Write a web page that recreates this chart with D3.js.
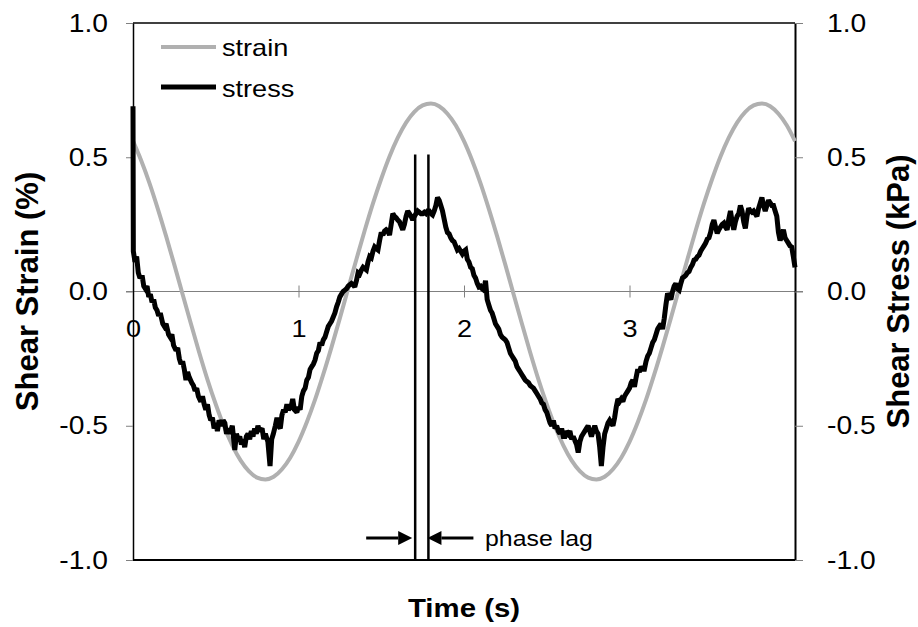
<!DOCTYPE html>
<html><head><meta charset="utf-8">
<script src="https://cdn.jsdelivr.net/npm/d3@7"></script>
<style>body{margin:0;background:#fff}svg{display:block}text{font-family:"Liberation Sans",Arial,sans-serif;fill:#000}</style>
</head><body><svg id="c" width="918" height="627"></svg>
<script>
// ---------- DATA ----------
const seriesNames = ["strain", "stress"];
const timeTicks = [0, 1, 2, 3];
const yTicks = [-1.0, -0.5, 0.0, 0.5, 1.0];
const xTitle = "Time (s)";
const yLeftTitle = "Shear Strain (%)";
const yRightTitle = "Shear Stress (kPa)";
const phaseLagLabel = "phase lag";
const phaseLagTimes = [1.705, 1.785];
const phaseLagTop = 0.51;

const strainPoints = [
[0.00,0.560],[0.05,0.487],[0.10,0.403],[0.15,0.308],[0.20,0.206],[0.25,0.099],[0.30,-0.011],[0.35,-0.120],[0.40,-0.227],[0.45,-0.328],
[0.50,-0.420],[0.55,-0.503],[0.60,-0.573],[0.65,-0.629],[0.70,-0.669],[0.75,-0.693],[0.80,-0.700],[0.85,-0.690],[0.90,-0.662],[0.95,-0.619],
[1.00,-0.560],[1.05,-0.487],[1.10,-0.403],[1.15,-0.308],[1.20,-0.206],[1.25,-0.099],[1.30,0.011],[1.35,0.120],[1.40,0.227],[1.45,0.328],
[1.50,0.420],[1.55,0.503],[1.60,0.573],[1.65,0.629],[1.70,0.669],[1.75,0.693],[1.80,0.700],[1.85,0.690],[1.90,0.662],[1.95,0.619],
[2.00,0.560],[2.05,0.487],[2.10,0.403],[2.15,0.308],[2.20,0.206],[2.25,0.099],[2.30,-0.011],[2.35,-0.120],[2.40,-0.227],[2.45,-0.328],
[2.50,-0.420],[2.55,-0.503],[2.60,-0.573],[2.65,-0.629],[2.70,-0.669],[2.75,-0.693],[2.80,-0.700],[2.85,-0.690],[2.90,-0.662],[2.95,-0.619],
[3.00,-0.560],[3.05,-0.487],[3.10,-0.403],[3.15,-0.308],[3.20,-0.206],[3.25,-0.099],[3.30,0.011],[3.35,0.120],[3.40,0.227],[3.45,0.328],
[3.50,0.420],[3.55,0.503],[3.60,0.573],[3.65,0.629],[3.70,0.669],[3.75,0.693],[3.80,0.700],[3.85,0.690],[3.90,0.662],[3.95,0.619],
[4.00,0.560]
];

const stressPoints = [
[0.000,0.69],[0.002,0.15],[0.012,0.11],[0.022,0.13],[0.032,0.07],[0.042,0.05],[0.055,0.06],[0.065,0.02],[0.075,0.01],[0.085,0.02],
[0.095,-0.02],[0.105,-0.01],[0.115,-0.04],[0.125,-0.03],[0.135,-0.06],[0.145,-0.07],[0.155,-0.09],[0.165,-0.08],[0.18,-0.12],[0.19,-0.13],
[0.20,-0.12],[0.215,-0.16],[0.225,-0.17],[0.235,-0.16],[0.245,-0.20],[0.26,-0.22],[0.27,-0.21],[0.28,-0.25],[0.29,-0.27],[0.30,-0.26],
[0.31,-0.29],[0.32,-0.33],[0.33,-0.30],[0.34,-0.32],[0.355,-0.34],[0.365,-0.35],[0.375,-0.37],[0.385,-0.36],[0.395,-0.39],[0.41,-0.41],
[0.42,-0.39],[0.43,-0.42],[0.44,-0.44],[0.45,-0.42],[0.46,-0.46],[0.47,-0.48],[0.48,-0.47],[0.49,-0.51],[0.50,-0.49],[0.51,-0.52],
[0.52,-0.48],[0.535,-0.50],[0.545,-0.48],[0.555,-0.49],[0.565,-0.53],[0.575,-0.51],[0.585,-0.53],[0.60,-0.50],[0.615,-0.59],[0.625,-0.53],
[0.635,-0.55],[0.645,-0.54],[0.655,-0.57],[0.665,-0.55],[0.675,-0.58],[0.685,-0.54],[0.695,-0.53],[0.705,-0.55],[0.715,-0.52],[0.725,-0.54],
[0.735,-0.51],[0.745,-0.53],[0.755,-0.50],[0.765,-0.52],[0.78,-0.51],[0.79,-0.55],[0.80,-0.53],[0.815,-0.56],[0.828,-0.65],[0.838,-0.55],
[0.848,-0.53],[0.86,-0.50],[0.87,-0.47],[0.88,-0.50],[0.89,-0.51],[0.90,-0.46],[0.91,-0.44],[0.92,-0.45],[0.93,-0.42],[0.94,-0.44],
[0.955,-0.43],[0.965,-0.40],[0.975,-0.44],[0.99,-0.45],
[1.00,-0.43],[1.01,-0.44],[1.02,-0.39],[1.03,-0.37],[1.04,-0.36],[1.05,-0.33],[1.06,-0.32],[1.07,-0.29],[1.08,-0.28],[1.09,-0.27],
[1.10,-0.255],[1.11,-0.23],[1.12,-0.22],[1.13,-0.19],[1.14,-0.20],[1.15,-0.18],[1.16,-0.17],[1.17,-0.15],[1.18,-0.13],[1.19,-0.12],
[1.20,-0.11],[1.21,-0.095],[1.22,-0.08],[1.23,-0.057],[1.24,-0.04],[1.25,-0.02],[1.26,-0.01],[1.27,0.00],[1.28,0.005],[1.29,0.01],
[1.30,0.02],[1.31,0.025],[1.32,0.03],[1.33,0.025],[1.34,0.017],[1.35,0.04],[1.36,0.07],[1.37,0.065],[1.38,0.08],[1.39,0.09],
[1.40,0.085],[1.41,0.08],[1.42,0.11],[1.43,0.13],[1.44,0.125],[1.45,0.15],[1.46,0.166],[1.47,0.16],[1.48,0.155],[1.49,0.19],
[1.50,0.22],[1.51,0.21],[1.52,0.225],[1.53,0.23],[1.54,0.225],[1.55,0.21],[1.56,0.25],[1.57,0.29],[1.58,0.28],[1.59,0.275],
[1.60,0.266],[1.61,0.26],[1.62,0.245],[1.63,0.23],[1.64,0.25],[1.65,0.28],[1.66,0.30],[1.67,0.29],[1.68,0.28],[1.69,0.266],
[1.70,0.28],[1.71,0.29],[1.72,0.30],[1.73,0.295],[1.74,0.29],[1.75,0.29],[1.76,0.295],[1.77,0.29],[1.78,0.30],[1.79,0.30],
[1.80,0.29],[1.81,0.285],[1.82,0.30],[1.83,0.32],[1.84,0.35],[1.85,0.34],[1.86,0.32],[1.87,0.30],[1.88,0.27],[1.89,0.24],
[1.90,0.22],[1.91,0.215],[1.92,0.20],[1.93,0.19],[1.94,0.185],[1.95,0.17],[1.96,0.155],[1.97,0.16],[1.98,0.15],[1.99,0.14],
[2.00,0.15],[2.01,0.155],[2.02,0.12],[2.03,0.11],[2.04,0.09],[2.05,0.085],[2.06,0.06],[2.07,0.05],[2.08,0.03],[2.09,0.017],
[2.10,0.02],[2.11,0.01],[2.12,0.005],[2.13,0.04],[2.14,-0.03],[2.15,-0.05],[2.16,-0.07],[2.17,-0.08],[2.18,-0.10],[2.19,-0.12],
[2.20,-0.13],[2.21,-0.14],[2.22,-0.16],[2.23,-0.17],[2.24,-0.175],[2.25,-0.18],[2.26,-0.19],[2.27,-0.21],[2.28,-0.23],[2.29,-0.24],
[2.30,-0.25],[2.31,-0.26],[2.32,-0.28],[2.33,-0.29],[2.34,-0.30],[2.35,-0.31],[2.36,-0.32],[2.37,-0.33],[2.38,-0.335],[2.39,-0.34],
[2.40,-0.35],[2.41,-0.355],[2.42,-0.36],[2.43,-0.37],[2.44,-0.38],[2.45,-0.39],[2.46,-0.40],[2.47,-0.415],[2.48,-0.42],[2.49,-0.44],
[2.50,-0.45],[2.51,-0.47],[2.52,-0.49],[2.53,-0.50],[2.54,-0.48],[2.55,-0.51],[2.56,-0.50],[2.57,-0.52],[2.58,-0.53],[2.59,-0.51],
[2.60,-0.54],[2.61,-0.54],[2.62,-0.52],[2.63,-0.53],[2.64,-0.52],[2.65,-0.55],[2.66,-0.54],[2.67,-0.555],[2.68,-0.57],[2.69,-0.60],
[2.70,-0.56],[2.71,-0.54],[2.72,-0.53],[2.73,-0.52],[2.74,-0.51],[2.75,-0.50],[2.76,-0.52],[2.77,-0.54],[2.78,-0.52],[2.79,-0.50],
[2.80,-0.52],[2.81,-0.53],[2.82,-0.58],[2.83,-0.65],[2.84,-0.58],[2.85,-0.53],[2.86,-0.51],[2.87,-0.49],[2.88,-0.48],[2.89,-0.49],
[2.90,-0.50],[2.91,-0.47],[2.92,-0.43],[2.93,-0.40],[2.94,-0.41],[2.95,-0.40],[2.96,-0.41],[2.97,-0.39],[2.98,-0.38],[2.99,-0.37],
[3.00,-0.36],[3.01,-0.34],[3.02,-0.33],[3.03,-0.355],[3.04,-0.32],[3.05,-0.29],[3.06,-0.30],[3.07,-0.28],[3.08,-0.29],[3.09,-0.29],
[3.10,-0.26],[3.11,-0.24],[3.12,-0.23],[3.13,-0.21],[3.14,-0.19],[3.15,-0.18],[3.16,-0.16],[3.17,-0.14],[3.18,-0.13],[3.19,-0.12],
[3.20,-0.14],[3.21,-0.10],[3.22,-0.05],[3.23,-0.007],[3.24,-0.02],[3.25,-0.03],[3.26,0.00],[3.27,0.02],[3.28,0.03],[3.29,0.01],
[3.30,0.005],[3.31,0.03],[3.32,0.05],[3.33,0.055],[3.34,0.06],[3.35,0.07],[3.36,0.075],[3.37,0.09],[3.38,0.10],[3.39,0.117],
[3.40,0.12],[3.41,0.13],[3.42,0.135],[3.43,0.15],[3.44,0.16],[3.45,0.17],[3.46,0.18],[3.47,0.195],[3.48,0.20],[3.49,0.22],
[3.50,0.25],[3.51,0.266],[3.52,0.24],[3.53,0.217],[3.54,0.23],[3.55,0.24],[3.56,0.25],[3.57,0.255],[3.58,0.24],[3.59,0.23],
[3.60,0.27],[3.61,0.30],[3.62,0.26],[3.63,0.23],[3.64,0.26],[3.65,0.28],[3.66,0.29],[3.67,0.32],[3.68,0.30],[3.69,0.26],
[3.70,0.235],[3.71,0.28],[3.72,0.31],[3.73,0.30],[3.74,0.295],[3.75,0.30],[3.76,0.29],[3.77,0.28],[3.78,0.31],[3.79,0.33],
[3.80,0.35],[3.81,0.32],[3.82,0.30],[3.83,0.32],[3.84,0.34],[3.85,0.33],[3.86,0.32],[3.87,0.32],[3.88,0.30],[3.89,0.28],
[3.90,0.22],[3.91,0.19],[3.92,0.21],[3.93,0.23],[3.94,0.20],[3.95,0.19],[3.96,0.18],[3.97,0.17],[3.98,0.166],[3.99,0.13],
[4.00,0.09]
];

// ---------- CHART ----------
const SX = 1.13; // horizontal text stretch of the reference
const svg = d3.select("#c");
const x = d3.scaleLinear().domain([0, 4]).range([133, 795]);
const y = d3.scaleLinear().domain([-1, 1]).range([560, 23]);
const fmt = d => d.toFixed(1);

function htext(g, tx, ty, str, size, anchor, weight) {
  return g.append("text")
    .attr("transform", `translate(${tx},${ty}) scale(${SX},1)`)
    .attr("text-anchor", anchor || "start")
    .style("font-size", size + "px")
    .style("font-weight", weight || "normal")
    .text(str);
}

// zero line (x axis)
svg.append("line")
  .attr("x1", x(0) - 7).attr("x2", x(4) + 8)
  .attr("y1", y(0)).attr("y2", y(0))
  .attr("stroke", "#808080").attr("stroke-width", 1);

const xAxis = svg.append("g")
  .attr("transform", `translate(0,${y(0)})`)
  .call(d3.axisBottom(x).tickValues(timeTicks).tickSizeInner(6).tickSizeOuter(0).tickPadding(22).tickFormat(d => String(d)));
xAxis.select(".domain").remove();
xAxis.selectAll(".tick line").attr("y1", -6).attr("y2", 6).attr("stroke", "#808080");
xAxis.selectAll(".tick text").style("font-size", "24px").style("font-family", '"Liberation Sans",Arial,sans-serif')
  .attr("transform", `scale(${SX},1)`);

// left axis
const yL = svg.append("g").attr("transform", `translate(${x(0)},0)`)
  .call(d3.axisLeft(y).tickValues(yTicks).tickSizeInner(7).tickSizeOuter(0).tickFormat(fmt));
yL.select(".domain").attr("stroke", "#000").attr("stroke-width", 1.5);
yL.selectAll(".tick line").attr("stroke", "#808080");
yL.selectAll(".tick text").style("font-size", "25px").style("font-family", '"Liberation Sans",Arial,sans-serif')
  .attr("x", -25 / SX).attr("transform", `scale(${SX},1)`);

// right axis
const yR = svg.append("g").attr("transform", `translate(${x(4)},0)`)
  .call(d3.axisRight(y).tickValues(yTicks).tickSizeInner(8).tickSizeOuter(0).tickFormat(fmt));
yR.select(".domain").attr("stroke", "#000").attr("stroke-width", 2);
yR.selectAll(".tick line").attr("stroke", "#808080");
yR.selectAll(".tick text").style("font-size", "25px").style("font-family", '"Liberation Sans",Arial,sans-serif')
  .attr("x", 32 / SX).attr("transform", `scale(${SX},1)`);

// top & bottom frame
svg.append("line").attr("x1", x(0)).attr("x2", x(4)).attr("y1", y(1)).attr("y2", y(1))
  .attr("stroke", "#000").attr("stroke-width", 1.5);
svg.append("line").attr("x1", x(0)).attr("x2", x(4)).attr("y1", y(-1)).attr("y2", y(-1))
  .attr("stroke", "#000").attr("stroke-width", 2);

// series
svg.append("path").datum(strainPoints)
  .attr("d", d3.line().x(d => x(d[0])).y(d => y(d[1])).curve(d3.curveMonotoneX))
  .attr("fill", "none").attr("stroke", "#b0b0b0").attr("stroke-width", 4);
svg.append("path").datum(stressPoints)
  .attr("d", d3.line().x(d => x(d[0])).y(d => y(d[1])))
  .attr("fill", "none").attr("stroke", "#000").attr("stroke-width", 5)
  .attr("stroke-linejoin", "miter").attr("stroke-miterlimit", 2);

// phase lag lines
svg.selectAll(".lag").data(phaseLagTimes).enter().append("line")
  .attr("class", "lag")
  .attr("x1", d => x(d)).attr("x2", d => x(d))
  .attr("y1", y(phaseLagTop)).attr("y2", y(-1))
  .attr("stroke", "#000").attr("stroke-width", 2.5);

// arrows
const ay = 538;
function arrow(tipX, dir) { // dir: +1 points right, -1 points left
  const tail = tipX - dir * 46, headBase = tipX - dir * 14;
  svg.append("line").attr("x1", tail).attr("x2", headBase).attr("y1", ay).attr("y2", ay)
    .attr("stroke", "#000").attr("stroke-width", 3);
  svg.append("path")
    .attr("d", `M${tipX},${ay} L${headBase},${ay - 7} L${headBase},${ay + 7} Z`)
    .attr("fill", "#000");
}
arrow(x(phaseLagTimes[0]) - 3, 1);
arrow(x(phaseLagTimes[1]) - 1, -1);
htext(svg, 485, 546, phaseLagLabel, 22, "start");

// legend
const legend = svg.append("g");
legend.append("line").attr("x1", 161).attr("x2", 216).attr("y1", 47).attr("y2", 47)
  .attr("stroke", "#b0b0b0").attr("stroke-width", 4);
htext(legend, 222, 56, seriesNames[0], 24, "start");
legend.append("line").attr("x1", 161).attr("x2", 216).attr("y1", 87).attr("y2", 87)
  .attr("stroke", "#000").attr("stroke-width", 5);
htext(legend, 222, 97, seriesNames[1], 24, "start");

// axis titles
htext(svg, 464, 617, xTitle, 26, "middle", "bold");
svg.append("text")
  .attr("transform", `translate(38,${y(0)}) rotate(-90)`)
  .attr("text-anchor", "middle").style("font-size", "31px").style("font-weight", "bold")
  .text(yLeftTitle);
svg.append("text")
  .attr("transform", `translate(909,${y(0)}) rotate(-90)`)
  .attr("text-anchor", "middle").style("font-size", "31px").style("font-weight", "bold")
  .text(yRightTitle);
</script></body></html>
